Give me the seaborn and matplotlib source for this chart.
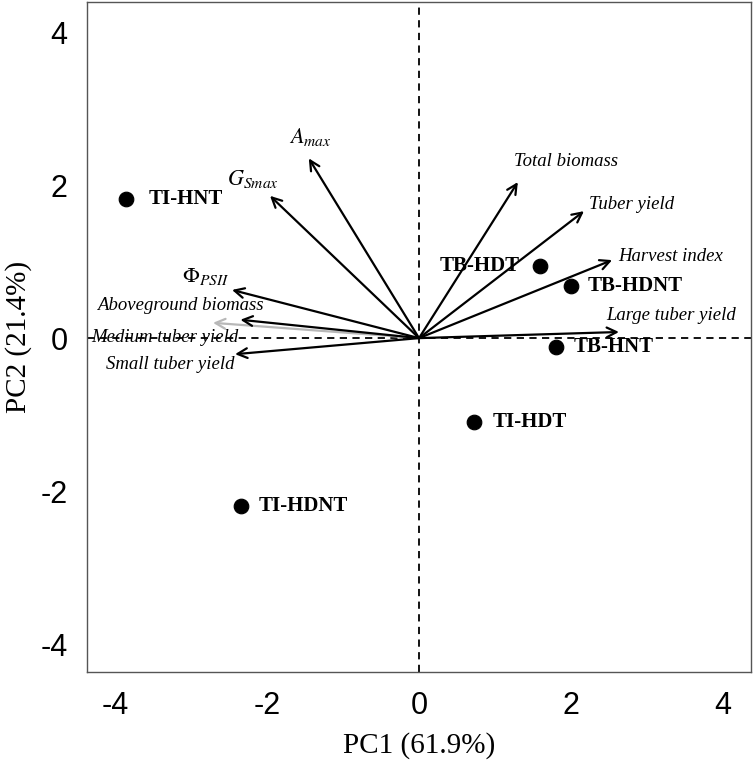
import matplotlib
matplotlib.use("Agg")
import matplotlib.pyplot as plt
import seaborn as sns
import pandas as pd

# Sample scores
samples = ["TI-HNT", "TB-HDT", "TB-HDNT", "TB-HNT", "TI-HDT", "TI-HDNT"]
pc1 = [-3.86, 1.59, 2.00, 1.80, 0.72, -2.34]
pc2 = [1.82, 0.94, 0.68, -0.12, -1.10, -2.20]

# Variable loadings (arrow tips)
variables = [r"$A_{max}$", r"$G_{Smax}$", r"$\mathit{\Phi}_{PSII}$", "Aboveground biomass",
             "Medium tuber yield", "Small tuber yield", "Total biomass",
             "Tuber yield", "Harvest index", "Large tuber yield"]
load1 = [-1.45, -1.96, -2.46, -2.35, -2.71, -2.42, 1.30, 2.17, 2.54, 2.63]
load2 = [2.35, 1.86, 0.63, 0.24, 0.20, -0.21, 2.04, 1.66, 1.02, 0.08]
# label positions for the variables
lab1 = [-1.43, -2.18, -2.81, -3.14, -3.34, -3.27, 1.93, 2.79, 3.31, 3.32]
lab2 = [2.63, 2.08, 0.81, 0.43, 0.01, -0.34, 2.31, 1.75, 1.07, 0.29]
arrow_colors = ["black", "black", "black", "black", "#b8b8b8", "black",
                "black", "black", "black", "black"]

ticks = [-4, -2, 0, 2, 4]

sns.set_style("white")
plt.rcParams["mathtext.fontset"] = "stix"
plt.rcParams["text.color"] = "black"
plt.rcParams["axes.labelcolor"] = "black"
plt.rcParams["xtick.color"] = "black"
plt.rcParams["ytick.color"] = "black"

fig = plt.figure(figsize=(7.55, 7.72), dpi=100)
ax = fig.add_axes([0.115, 0.13, 0.88, 0.868])

df = pd.DataFrame({"PC1": pc1, "PC2": pc2, "sample": samples})
ax.axhline(0, color="black", ls=(0, (4, 3)), lw=1.3, zorder=1)
ax.axvline(0, color="black", ls=(0, (4, 3)), lw=1.3, zorder=1)

# arrows: draw gray one first so black ones overlay
order = sorted(range(len(variables)), key=lambda i: 0 if arrow_colors[i] != "black" else 1)
for i in order:
    ax.annotate("", xy=(load1[i], load2[i]), xytext=(0, 0),
                arrowprops=dict(arrowstyle="->,head_length=0.7,head_width=0.35",
                                color=arrow_colors[i], lw=1.6, shrinkA=0, shrinkB=0),
                zorder=3)
for i in range(len(variables)):
    fs = 16 if variables[i].startswith("$") else 13.5
    ax.text(lab1[i], lab2[i], variables[i], ha="center", va="center",
            fontsize=fs, style="italic", family="Liberation Serif", color="black",
            zorder=4)

sns.scatterplot(data=df, x="PC1", y="PC2", color="black", s=110,
                edgecolor="black", ax=ax, zorder=5, legend=False)

offsets = {"TI-HNT": (0.3, "left"), "TB-HDT": (-0.26, "right"),
           "TB-HDNT": (0.22, "left"), "TB-HNT": (0.24, "left"),
           "TI-HDT": (0.25, "left"), "TI-HDNT": (0.23, "left")}
for s, x, y in zip(samples, pc1, pc2):
    dx, ha = offsets[s]
    ax.text(x + dx, y, s, ha=ha, va="center", fontsize=15, fontweight="bold",
            family="Liberation Serif", color="black", zorder=6)

ax.set_xlim(-4.37, 4.37)
ax.set_ylim(-4.36, 4.4)
ax.set_xticks(ticks)
ax.set_yticks(ticks)
ax.set_xticklabels([str(t) for t in ticks], family="Liberation Sans", fontsize=22)
ax.set_yticklabels([str(t) for t in ticks], family="Liberation Sans", fontsize=22)
ax.tick_params(axis="both", direction="out", length=8, width=1.2, color="black",
               labelcolor="black", pad=6)
for sp in ax.spines.values():
    sp.set_color("#555555")
    sp.set_linewidth(1.0)
ax.set_xlabel("PC1 (61.9%)", family="Liberation Serif", fontsize=21, labelpad=8,
              color="black")
ax.set_ylabel("PC2 (21.4%)", family="Liberation Serif", fontsize=21, labelpad=6,
              color="black")

fig.savefig("out.png", dpi=100)
